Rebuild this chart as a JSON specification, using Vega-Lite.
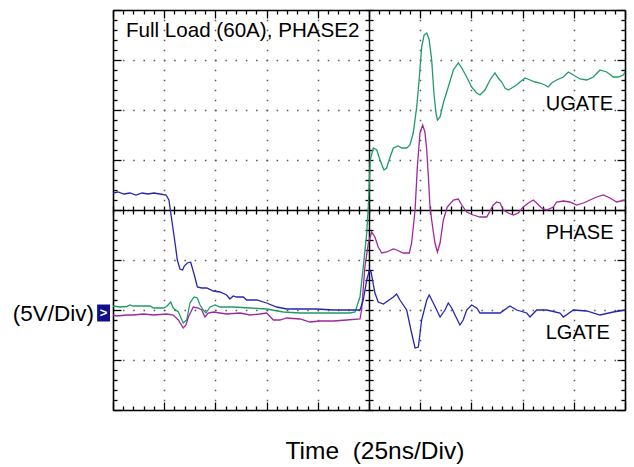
{
  "$schema": "https://vega.github.io/schema/vega-lite/v6.json",
  "width": 512,
  "height": 400,
  "autosize": {"type": "none"},
  "padding": {"left": 113, "top": 10, "right": 9, "bottom": 57},
  "background": "white",
  "config": {"view": {"stroke": null}},
  "datasets": {
    "traces": [
      {"s":"UGATE","t":-125,"v":0.7},{"s":"UGATE","t":-121.6,"v":0.6},{"s":"UGATE","t":-118.3,"v":0.65},{"s":"UGATE","t":-116.7,"v":0.8},{"s":"UGATE","t":-115.1,"v":0.7},{"s":"UGATE","t":-106.9,"v":0.7},{"s":"UGATE","t":-105.3,"v":0.5},{"s":"UGATE","t":-100.4,"v":0.5},{"s":"UGATE","t":-98.8,"v":0.65},{"s":"UGATE","t":-96.8,"v":1.1},{"s":"UGATE","t":-95.6,"v":0.5},{"s":"UGATE","t":-93.1,"v":0.1},{"s":"UGATE","t":-90.7,"v":-1.0},{"s":"UGATE","t":-89.0,"v":-0.7},{"s":"UGATE","t":-87.4,"v":1.0},{"s":"UGATE","t":-85.4,"v":1.6},{"s":"UGATE","t":-83.8,"v":1.5},{"s":"UGATE","t":-82.5,"v":0.8},{"s":"UGATE","t":-80.9,"v":0.3},{"s":"UGATE","t":-79.6,"v":0.0},{"s":"UGATE","t":-77.6,"v":0.6},{"s":"UGATE","t":-75.2,"v":0.8},{"s":"UGATE","t":-72.8,"v":0.6},{"s":"UGATE","t":-69.5,"v":0.6},{"s":"UGATE","t":-66.3,"v":0.6},{"s":"UGATE","t":-58.1,"v":0.5},{"s":"UGATE","t":-50.0,"v":0.4},{"s":"UGATE","t":-41.8,"v":0.1},{"s":"UGATE","t":-33.7,"v":0.0},{"s":"UGATE","t":-25.5,"v":0.0},{"s":"UGATE","t":-17.4,"v":0.0},{"s":"UGATE","t":-9.3,"v":0.0},{"s":"UGATE","t":-6.8,"v":0.1},{"s":"UGATE","t":-4.4,"v":1.6},{"s":"UGATE","t":-2.8,"v":4.6},{"s":"UGATE","t":-1.1,"v":8.0},{"s":"UGATE","t":-0.3,"v":10.8},{"s":"UGATE","t":0.1,"v":12.7},{"s":"UGATE","t":0.6,"v":15.3},{"s":"UGATE","t":2.1,"v":16.5},{"s":"UGATE","t":3.8,"v":16.3},{"s":"UGATE","t":5.4,"v":15.3},{"s":"UGATE","t":7.3,"v":14.3},{"s":"UGATE","t":8.6,"v":14.5},{"s":"UGATE","t":10.3,"v":15.6},{"s":"UGATE","t":11.9,"v":16.5},{"s":"UGATE","t":14.3,"v":16.7},{"s":"UGATE","t":16.0,"v":16.5},{"s":"UGATE","t":18.4,"v":16.5},{"s":"UGATE","t":20.0,"v":16.8},{"s":"UGATE","t":21.6,"v":18.0},{"s":"UGATE","t":23.3,"v":20.6},{"s":"UGATE","t":24.6,"v":23.6},{"s":"UGATE","t":25.7,"v":26.6},{"s":"UGATE","t":26.9,"v":27.8},{"s":"UGATE","t":28.2,"v":28.0},{"s":"UGATE","t":29.4,"v":27.3},{"s":"UGATE","t":30.6,"v":25.3},{"s":"UGATE","t":31.7,"v":22.0},{"s":"UGATE","t":32.7,"v":20.0},{"s":"UGATE","t":33.4,"v":19.3},{"s":"UGATE","t":34.7,"v":19.6},{"s":"UGATE","t":36.3,"v":21.0},{"s":"UGATE","t":38.7,"v":22.6},{"s":"UGATE","t":41.2,"v":24.3},{"s":"UGATE","t":43.6,"v":25.0},{"s":"UGATE","t":45.3,"v":24.5},{"s":"UGATE","t":47.7,"v":23.6},{"s":"UGATE","t":50.1,"v":22.6},{"s":"UGATE","t":52.6,"v":22.0},{"s":"UGATE","t":54.2,"v":21.8},{"s":"UGATE","t":56.6,"v":22.3},{"s":"UGATE","t":59.1,"v":23.3},{"s":"UGATE","t":61.5,"v":24.0},{"s":"UGATE","t":63.1,"v":23.5},{"s":"UGATE","t":64.8,"v":23.1},{"s":"UGATE","t":66.4,"v":22.5},{"s":"UGATE","t":68.0,"v":22.3},{"s":"UGATE","t":70.5,"v":22.6},{"s":"UGATE","t":72.1,"v":22.8},{"s":"UGATE","t":73.7,"v":23.1},{"s":"UGATE","t":76.2,"v":23.5},{"s":"UGATE","t":78.6,"v":23.3},{"s":"UGATE","t":81.1,"v":23.1},{"s":"UGATE","t":83.5,"v":23.0},{"s":"UGATE","t":85.9,"v":22.8},{"s":"UGATE","t":87.5,"v":22.6},{"s":"UGATE","t":89.2,"v":23.0},{"s":"UGATE","t":91.6,"v":23.3},{"s":"UGATE","t":94.9,"v":23.6},{"s":"UGATE","t":97.3,"v":24.1},{"s":"UGATE","t":99.8,"v":23.8},{"s":"UGATE","t":103.0,"v":23.4},{"s":"UGATE","t":106.3,"v":23.3},{"s":"UGATE","t":109.5,"v":23.6},{"s":"UGATE","t":112.8,"v":24.3},{"s":"UGATE","t":116.1,"v":24.1},{"s":"UGATE","t":119.3,"v":23.6},{"s":"UGATE","t":121.7,"v":23.6},{"s":"UGATE","t":124.2,"v":23.8},{"s":"UGATE","t":125.0,"v":24.1},
      {"s":"PHASE","t":-125,"v":-0.2},{"s":"PHASE","t":-123.2,"v":-0.3},{"s":"PHASE","t":-118.3,"v":-0.2},{"s":"PHASE","t":-115.1,"v":-0.2},{"s":"PHASE","t":-110.2,"v":-0.1},{"s":"PHASE","t":-105.3,"v":-0.2},{"s":"PHASE","t":-98.8,"v":-0.1},{"s":"PHASE","t":-95.6,"v":-0.2},{"s":"PHASE","t":-93.1,"v":-0.7},{"s":"PHASE","t":-90.7,"v":-1.5},{"s":"PHASE","t":-89.4,"v":-1.2},{"s":"PHASE","t":-88.2,"v":-0.4},{"s":"PHASE","t":-85.8,"v":0.6},{"s":"PHASE","t":-83.3,"v":0.5},{"s":"PHASE","t":-81.7,"v":0.3},{"s":"PHASE","t":-80.1,"v":-0.4},{"s":"PHASE","t":-78.5,"v":0.0},{"s":"PHASE","t":-76.0,"v":0.1},{"s":"PHASE","t":-72.8,"v":0.0},{"s":"PHASE","t":-69.5,"v":-0.1},{"s":"PHASE","t":-63.0,"v":0.0},{"s":"PHASE","t":-58.1,"v":-0.2},{"s":"PHASE","t":-53.2,"v":-0.1},{"s":"PHASE","t":-50.0,"v":0.0},{"s":"PHASE","t":-46.7,"v":-0.7},{"s":"PHASE","t":-43.5,"v":-0.7},{"s":"PHASE","t":-40.2,"v":-0.5},{"s":"PHASE","t":-33.7,"v":-0.6},{"s":"PHASE","t":-28.8,"v":-0.9},{"s":"PHASE","t":-23.9,"v":-0.8},{"s":"PHASE","t":-17.4,"v":-0.8},{"s":"PHASE","t":-10.9,"v":-0.7},{"s":"PHASE","t":-4.4,"v":-0.6},{"s":"PHASE","t":-3.6,"v":0.3},{"s":"PHASE","t":-2.0,"v":4.6},{"s":"PHASE","t":-0.3,"v":7.0},{"s":"PHASE","t":1.3,"v":8.1},{"s":"PHASE","t":2.9,"v":7.6},{"s":"PHASE","t":4.5,"v":6.6},{"s":"PHASE","t":6.2,"v":6.0},{"s":"PHASE","t":8.6,"v":6.1},{"s":"PHASE","t":11.9,"v":6.4},{"s":"PHASE","t":13.5,"v":6.3},{"s":"PHASE","t":16.7,"v":6.0},{"s":"PHASE","t":19.7,"v":6.0},{"s":"PHASE","t":20.8,"v":7.0},{"s":"PHASE","t":22.0,"v":9.3},{"s":"PHASE","t":22.5,"v":10.3},{"s":"PHASE","t":23.6,"v":14.6},{"s":"PHASE","t":24.9,"v":18.0},{"s":"PHASE","t":26.2,"v":18.8},{"s":"PHASE","t":27.3,"v":18.1},{"s":"PHASE","t":28.2,"v":16.3},{"s":"PHASE","t":29.0,"v":13.6},{"s":"PHASE","t":29.8,"v":10.6},{"s":"PHASE","t":30.6,"v":9.3},{"s":"PHASE","t":32.2,"v":7.0},{"s":"PHASE","t":33.4,"v":6.1},{"s":"PHASE","t":34.7,"v":7.0},{"s":"PHASE","t":36.3,"v":9.3},{"s":"PHASE","t":38.2,"v":10.6},{"s":"PHASE","t":41.2,"v":11.3},{"s":"PHASE","t":43.6,"v":11.4},{"s":"PHASE","t":45.3,"v":10.8},{"s":"PHASE","t":47.7,"v":10.1},{"s":"PHASE","t":50.9,"v":9.8},{"s":"PHASE","t":54.2,"v":9.6},{"s":"PHASE","t":57.5,"v":9.6},{"s":"PHASE","t":60.7,"v":10.8},{"s":"PHASE","t":62.4,"v":11.1},{"s":"PHASE","t":64.0,"v":11.0},{"s":"PHASE","t":65.6,"v":10.3},{"s":"PHASE","t":68.0,"v":10.0},{"s":"PHASE","t":70.5,"v":9.8},{"s":"PHASE","t":72.9,"v":10.0},{"s":"PHASE","t":75.3,"v":10.6},{"s":"PHASE","t":77.8,"v":11.0},{"s":"PHASE","t":80.2,"v":11.3},{"s":"PHASE","t":81.9,"v":11.0},{"s":"PHASE","t":84.3,"v":10.5},{"s":"PHASE","t":86.8,"v":10.3},{"s":"PHASE","t":90.0,"v":10.6},{"s":"PHASE","t":91.6,"v":11.1},{"s":"PHASE","t":94.9,"v":11.2},{"s":"PHASE","t":98.1,"v":11.1},{"s":"PHASE","t":101.4,"v":10.8},{"s":"PHASE","t":104.7,"v":11.0},{"s":"PHASE","t":107.9,"v":11.3},{"s":"PHASE","t":111.2,"v":11.6},{"s":"PHASE","t":114.4,"v":11.8},{"s":"PHASE","t":117.7,"v":11.5},{"s":"PHASE","t":120.9,"v":11.1},{"s":"PHASE","t":125.0,"v":11.3},
      {"s":"LGATE","t":-125,"v":12.0},{"s":"LGATE","t":-122.6,"v":12.1},{"s":"LGATE","t":-119.6,"v":11.9},{"s":"LGATE","t":-116.7,"v":12.0},{"s":"LGATE","t":-113.8,"v":11.8},{"s":"LGATE","t":-110.8,"v":12.0},{"s":"LGATE","t":-107.9,"v":11.9},{"s":"LGATE","t":-105.0,"v":12.0},{"s":"LGATE","t":-102.1,"v":11.9},{"s":"LGATE","t":-99.1,"v":11.8},{"s":"LGATE","t":-97.7,"v":11.3},{"s":"LGATE","t":-96.3,"v":9.3},{"s":"LGATE","t":-94.7,"v":7.0},{"s":"LGATE","t":-93.6,"v":5.3},{"s":"LGATE","t":-92.3,"v":4.4},{"s":"LGATE","t":-91.0,"v":4.3},{"s":"LGATE","t":-90.2,"v":4.7},{"s":"LGATE","t":-88.7,"v":5.0},{"s":"LGATE","t":-87.1,"v":5.1},{"s":"LGATE","t":-85.3,"v":3.8},{"s":"LGATE","t":-83.8,"v":2.6},{"s":"LGATE","t":-81.7,"v":2.5},{"s":"LGATE","t":-79.2,"v":2.5},{"s":"LGATE","t":-76.0,"v":2.2},{"s":"LGATE","t":-72.8,"v":2.1},{"s":"LGATE","t":-69.5,"v":1.8},{"s":"LGATE","t":-67.9,"v":1.4},{"s":"LGATE","t":-66.3,"v":1.7},{"s":"LGATE","t":-64.6,"v":1.6},{"s":"LGATE","t":-61.4,"v":1.6},{"s":"LGATE","t":-59.7,"v":1.3},{"s":"LGATE","t":-54.8,"v":1.3},{"s":"LGATE","t":-50.0,"v":1.0},{"s":"LGATE","t":-45.1,"v":0.6},{"s":"LGATE","t":-40.2,"v":0.4},{"s":"LGATE","t":-33.7,"v":0.4},{"s":"LGATE","t":-25.5,"v":0.4},{"s":"LGATE","t":-17.4,"v":0.3},{"s":"LGATE","t":-7.7,"v":0.3},{"s":"LGATE","t":-4.4,"v":0.3},{"s":"LGATE","t":-2.8,"v":1.3},{"s":"LGATE","t":-1.1,"v":3.3},{"s":"LGATE","t":0.1,"v":4.2},{"s":"LGATE","t":1.0,"v":4.1},{"s":"LGATE","t":2.9,"v":2.0},{"s":"LGATE","t":4.5,"v":1.1},{"s":"LGATE","t":7.0,"v":0.9},{"s":"LGATE","t":11.9,"v":1.6},{"s":"LGATE","t":13.5,"v":1.9},{"s":"LGATE","t":15.1,"v":1.3},{"s":"LGATE","t":18.4,"v":0.3},{"s":"LGATE","t":20.8,"v":-2.0},{"s":"LGATE","t":22.5,"v":-3.5},{"s":"LGATE","t":24.1,"v":-3.4},{"s":"LGATE","t":25.7,"v":-0.7},{"s":"LGATE","t":28.2,"v":1.3},{"s":"LGATE","t":29.4,"v":1.8},{"s":"LGATE","t":31.4,"v":1.0},{"s":"LGATE","t":34.7,"v":-0.4},{"s":"LGATE","t":37.1,"v":0.3},{"s":"LGATE","t":38.7,"v":1.0},{"s":"LGATE","t":40.4,"v":0.5},{"s":"LGATE","t":42.0,"v":-0.2},{"s":"LGATE","t":44.4,"v":-1.2},{"s":"LGATE","t":46.0,"v":-0.7},{"s":"LGATE","t":47.7,"v":0.3},{"s":"LGATE","t":50.1,"v":0.8},{"s":"LGATE","t":52.6,"v":0.5},{"s":"LGATE","t":54.2,"v":0.0},{"s":"LGATE","t":57.5,"v":0.0},{"s":"LGATE","t":64.0,"v":0.0},{"s":"LGATE","t":68.8,"v":0.7},{"s":"LGATE","t":72.1,"v":0.3},{"s":"LGATE","t":77.0,"v":0.0},{"s":"LGATE","t":78.6,"v":-0.4},{"s":"LGATE","t":81.9,"v":0.3},{"s":"LGATE","t":86.8,"v":0.3},{"s":"LGATE","t":93.3,"v":0.0},{"s":"LGATE","t":94.9,"v":-0.4},{"s":"LGATE","t":99.8,"v":0.3},{"s":"LGATE","t":106.3,"v":0.2},{"s":"LGATE","t":112.8,"v":-0.2},{"s":"LGATE","t":119.3,"v":0.1},{"s":"LGATE","t":125.0,"v":0.3}
    ]
  },
  "resolve": {"axis": {"x": "independent", "y": "independent"}, "scale": {"x": "shared", "y": "shared", "color": "shared"}},
  "layer": [
    {
      "data": {"name": "traces"},
      "transform": [{"filter": "datum.s === 'UGATE'"}],
      "mark": {"type": "line", "strokeWidth": 1.3},
      "encoding": {
        "x": {"field": "t", "type": "quantitative", "scale": {"domain": [-125, 125], "nice": false, "zero": false},
          "axis": {"orient": "top", "offset": -400, "title": null, "labels": false,
            "values": [-125,-120,-115,-110,-105,-100,-95,-90,-85,-80,-75,-70,-65,-60,-55,-50,-45,-40,-35,-30,-25,-20,-15,-10,-5,0,5,10,15,20,25,30,35,40,45,50,55,60,65,70,75,80,85,90,95,100,105,110,115,120,125],
            "domain": true, "domainColor": "black", "domainWidth": 1.6,
            "ticks": true, "tickColor": "black", "tickWidth": 1.3,
            "tickSize": {"condition": {"test": "datum.value % 25 === 0", "value": 8}, "value": 4},
            "grid": true,
            "gridColor": {"condition": {"test": "datum.value === 0", "value": "black"}, "value": "#555555"},
            "gridWidth": 1.5,
            "gridDash": {"condition": {"test": "datum.value === 0", "value": [10, 0]}, "value": [1.5, 8.5]},
            "gridDashOffset": 0.75,
            "gridOpacity": {"condition": {"test": "datum.value % 25 === 0 && abs(datum.value) < 125", "value": 1}, "value": 0}}},
        "y": {"field": "v", "type": "quantitative", "scale": {"domain": [-9.7, 30.3], "nice": false, "zero": false},
          "axis": {"orient": "right", "offset": -512, "title": null, "labels": false,
            "values": [-9.7,-8.7,-7.7,-6.7,-5.7,-4.7,-3.7,-2.7,-1.7,-0.7,0.3,1.3,2.3,3.3,4.3,5.3,6.3,7.3,8.3,9.3,10.3,11.3,12.3,13.3,14.3,15.3,16.3,17.3,18.3,19.3,20.3,21.3,22.3,23.3,24.3,25.3,26.3,27.3,28.3,29.3,30.3],
            "domain": true, "domainColor": "black", "domainWidth": 1.6,
            "ticks": true, "tickColor": "black", "tickWidth": 1.3,
            "tickSize": {"condition": {"test": "abs((datum.value + 9.7) / 5 - round((datum.value + 9.7) / 5)) < 0.01", "value": 8}, "value": 4},
            "grid": true,
            "gridColor": {"condition": {"test": "abs(datum.value - 10.3) < 0.01", "value": "black"}, "value": "#555555"},
            "gridWidth": 1.5,
            "gridDash": {"condition": {"test": "abs(datum.value - 10.3) < 0.01", "value": [10, 0]}, "value": [1.5, 8.74]},
            "gridDashOffset": 0.75,
            "gridOpacity": {"condition": {"test": "abs((datum.value + 9.7) / 5 - round((datum.value + 9.7) / 5)) < 0.01 && datum.value > -9 && datum.value < 30", "value": 1}, "value": 0}}},
        "color": {"field": "s", "type": "nominal", "scale": {"domain": ["UGATE", "PHASE", "LGATE"], "range": ["#1f9b66", "#a0289f", "#2626b0"]}, "legend": null}
      }
    },
    {
      "data": {"name": "traces"},
      "transform": [{"filter": "datum.s === 'PHASE'"}],
      "mark": {"type": "line", "strokeWidth": 1.3},
      "encoding": {
        "x": {"field": "t", "type": "quantitative", "scale": {"domain": [-125, 125], "nice": false, "zero": false},
          "axis": {"orient": "bottom", "offset": -400, "title": null, "labels": false, "grid": false,
            "values": [-125,-120,-115,-110,-105,-100,-95,-90,-85,-80,-75,-70,-65,-60,-55,-50,-45,-40,-35,-30,-25,-20,-15,-10,-5,0,5,10,15,20,25,30,35,40,45,50,55,60,65,70,75,80,85,90,95,100,105,110,115,120,125],
            "domain": true, "domainColor": "black", "domainWidth": 1.6,
            "ticks": true, "tickColor": "black", "tickWidth": 1.3,
            "tickSize": {"condition": {"test": "datum.value % 25 === 0", "value": 8}, "value": 4}}},
        "y": {"field": "v", "type": "quantitative", "scale": {"domain": [-9.7, 30.3], "nice": false, "zero": false},
          "axis": {"orient": "left", "offset": -512, "title": null, "labels": false, "grid": false,
            "values": [-9.7,-8.7,-7.7,-6.7,-5.7,-4.7,-3.7,-2.7,-1.7,-0.7,0.3,1.3,2.3,3.3,4.3,5.3,6.3,7.3,8.3,9.3,10.3,11.3,12.3,13.3,14.3,15.3,16.3,17.3,18.3,19.3,20.3,21.3,22.3,23.3,24.3,25.3,26.3,27.3,28.3,29.3,30.3],
            "domain": true, "domainColor": "black", "domainWidth": 1.6,
            "ticks": true, "tickColor": "black", "tickWidth": 1.3,
            "tickSize": {"condition": {"test": "abs((datum.value + 9.7) / 5 - round((datum.value + 9.7) / 5)) < 0.01", "value": 8}, "value": 4}}},
        "color": {"field": "s", "type": "nominal", "legend": null}
      }
    },
    {
      "data": {"name": "traces"},
      "transform": [{"filter": "datum.s === 'LGATE'"}],
      "mark": {"type": "line", "strokeWidth": 1.3},
      "encoding": {
        "x": {"field": "t", "type": "quantitative", "scale": {"domain": [-125, 125], "nice": false, "zero": false},
          "axis": {"orient": "bottom", "offset": -204, "title": null, "labels": false, "grid": false, "domain": false,
            "values": [-125,-120,-115,-110,-105,-100,-95,-90,-85,-80,-75,-70,-65,-60,-55,-50,-45,-40,-35,-30,-25,-20,-15,-10,-5,0,5,10,15,20,25,30,35,40,45,50,55,60,65,70,75,80,85,90,95,100,105,110,115,120,125],
            "ticks": true, "tickColor": "black", "tickWidth": 1.3, "tickSize": 8}},
        "y": {"field": "v", "type": "quantitative", "scale": {"domain": [-9.7, 30.3], "nice": false, "zero": false},
          "axis": {"orient": "left", "offset": -260, "title": null, "labels": false, "grid": false, "domain": false,
            "values": [-9.7,-8.7,-7.7,-6.7,-5.7,-4.7,-3.7,-2.7,-1.7,-0.7,0.3,1.3,2.3,3.3,4.3,5.3,6.3,7.3,8.3,9.3,10.3,11.3,12.3,13.3,14.3,15.3,16.3,17.3,18.3,19.3,20.3,21.3,22.3,23.3,24.3,25.3,26.3,27.3,28.3,29.3,30.3],
            "ticks": true, "tickColor": "black", "tickWidth": 1.3, "tickSize": 8}},
        "color": {"field": "s", "type": "nominal", "legend": null}
      }
    },
    {
      "data": {"values": [{}]},
      "mark": {"type": "text", "align": "left", "baseline": "alphabetic", "fontSize": 20.6, "font": "Liberation Sans", "color": "black"},
      "encoding": {
        "x": {"datum": -118.7, "type": "quantitative", "axis": null, "scale": {"domain": [-125, 125], "nice": false, "zero": false}},
        "y": {"datum": 27.6, "type": "quantitative", "axis": null, "scale": {"domain": [-9.7, 30.3], "nice": false, "zero": false}},
        "text": {"value": "Full Load (60A), PHASE2"}
      }
    },
    {
      "data": {"values": [{}]},
      "mark": {"type": "text", "align": "left", "baseline": "alphabetic", "fontSize": 20, "font": "Liberation Sans", "color": "black"},
      "encoding": {
        "x": {"datum": 86.3, "type": "quantitative", "axis": null},
        "y": {"datum": 20.3, "type": "quantitative", "axis": null},
        "text": {"value": "UGATE"}
      }
    },
    {
      "data": {"values": [{}]},
      "mark": {"type": "text", "align": "left", "baseline": "alphabetic", "fontSize": 20, "font": "Liberation Sans", "color": "black"},
      "encoding": {
        "x": {"datum": 86.3, "type": "quantitative", "axis": null},
        "y": {"datum": 7.45, "type": "quantitative", "axis": null},
        "text": {"value": "PHASE"}
      }
    },
    {
      "data": {"values": [{}]},
      "mark": {"type": "text", "align": "left", "baseline": "alphabetic", "fontSize": 20, "font": "Liberation Sans", "color": "black"},
      "encoding": {
        "x": {"datum": 86.3, "type": "quantitative", "axis": null},
        "y": {"datum": -2.6, "type": "quantitative", "axis": null},
        "text": {"value": "LGATE"}
      }
    },
    {
      "data": {"values": [{}]},
      "mark": {"type": "text", "align": "right", "baseline": "alphabetic", "fontSize": 22.5, "font": "Liberation Sans", "color": "black"},
      "encoding": {
        "x": {"datum": -134.3, "type": "quantitative", "axis": null},
        "y": {"datum": -0.75, "type": "quantitative", "axis": null},
        "text": {"value": "(5V/Div)"}
      }
    },
    {
      "data": {"values": [{}]},
      "mark": {"type": "point", "shape": "M-0.76,-1H0.76V1H-0.76Z", "size": 289, "filled": true, "color": "#10108c", "opacity": 1},
      "encoding": {
        "x": {"datum": -129.6, "type": "quantitative", "axis": null},
        "y": {"datum": 0, "type": "quantitative", "axis": null}
      }
    },
    {
      "data": {"values": [{}]},
      "mark": {"type": "text", "align": "center", "baseline": "middle", "fontSize": 13, "fontWeight": "bold", "font": "Liberation Sans", "color": "white"},
      "encoding": {
        "x": {"datum": -129.6, "type": "quantitative", "axis": null},
        "y": {"datum": 0, "type": "quantitative", "axis": null},
        "text": {"value": ">"}
      }
    },
    {
      "data": {"values": [{}]},
      "mark": {"type": "text", "align": "center", "baseline": "alphabetic", "fontSize": 24.5, "font": "Liberation Sans", "color": "black"},
      "encoding": {
        "x": {"datum": 2.9, "type": "quantitative", "axis": null},
        "y": {"datum": -14.6, "type": "quantitative", "axis": null},
        "text": {"value": "Time \u00a0(25ns/Div)"}
      }
    }
  ]
}
